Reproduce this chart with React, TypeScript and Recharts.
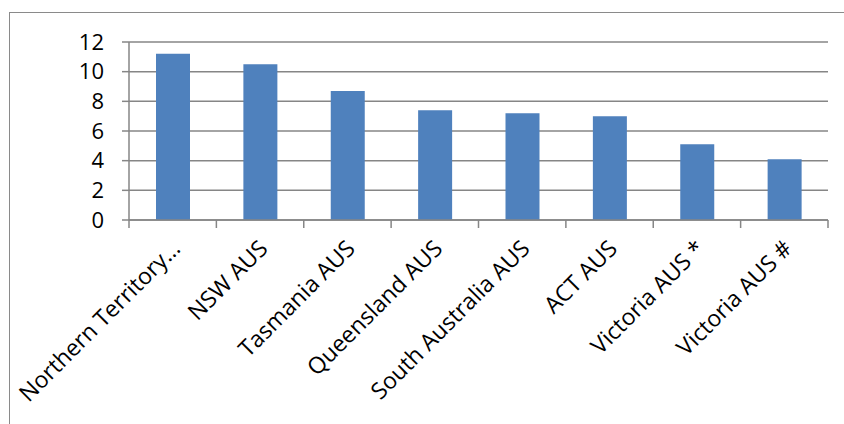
import React from "react";
import { BarChart, Bar, XAxis, YAxis, CartesianGrid } from "recharts";

const categories = [
  "Northern Territory…",
  "NSW AUS",
  "Tasmania AUS",
  "Queensland AUS",
  "South Australia AUS",
  "ACT AUS",
  "Victoria AUS *",
  "Victoria AUS #",
];
const values = [11.2, 10.5, 8.7, 7.4, 7.2, 7.0, 5.1, 4.1];
const yTicks = [0, 2, 4, 6, 8, 10, 12];

const data = categories.map((name, i) => ({ name, value: values[i] }));

const AXIS_GREY = "#868686";
const FONT_SIZE = 22;

// Category label rotated 45°, with tick marks on the band edges (Excel style)
function CategoryTick(props: any) {
  const { x, y, payload, index, visibleTicksCount } = props;
  const half = payload?.offset ?? 43.7;
  const tx = x + 9;
  const ty = y + 30;
  const last = index === visibleTicksCount - 1;
  return (
    <g>
      <line x1={x - half} x2={x - half} y1={y} y2={y + 8} stroke={AXIS_GREY} strokeWidth={1.5} />
      {last && (
        <line x1={x + half} x2={x + half} y1={y} y2={y + 8} stroke={AXIS_GREY} strokeWidth={1.5} />
      )}
      <text
        x={tx}
        y={ty}
        textAnchor="end"
        fill="#000"
        fontSize={23}
        transform={`rotate(-45, ${tx}, ${ty})`}
      >
        {payload.value}
      </text>
    </g>
  );
}

export default function App() {
  return (
    <div
      style={{
        position: "absolute",
        left: 0,
        top: 0,
        width: 844,
        height: 424,
        overflow: "hidden",
        background: "#fff",
        fontFamily: "'Open Sans', sans-serif",
      }}
    >
      <div
        style={{
          position: "absolute",
          left: 9,
          top: 12,
          width: 860,
          height: 440,
          border: "1px solid #8a8a8a",
        }}
      />
      <BarChart
        width={844}
        height={424}
        data={data}
        margin={{ top: 42, right: 16, left: 0, bottom: 0 }}
        style={{ position: "absolute", left: 0, top: 0 }}
      >
        <CartesianGrid vertical={false} stroke={AXIS_GREY} strokeWidth={1.5} />
        <YAxis
          width={129}
          domain={[0, 12]}
          ticks={yTicks}
          interval={0}
          tickSize={7}
          tickMargin={18}
          axisLine={{ stroke: AXIS_GREY, strokeWidth: 1.5 }}
          tickLine={{ stroke: AXIS_GREY, strokeWidth: 1.5 }}
          tick={{ fill: "#000", fontSize: FONT_SIZE }}
        />
        <XAxis
          dataKey="name"
          height={204}
          interval={0}
          tickSize={0}
          tickMargin={0}
          tickLine={false}
          axisLine={{ stroke: AXIS_GREY, strokeWidth: 1.5 }}
          tick={<CategoryTick />}
        />
        <Bar dataKey="value" fill="#4F81BD" barSize={34} isAnimationActive={false} />
      </BarChart>
    </div>
  );
}
